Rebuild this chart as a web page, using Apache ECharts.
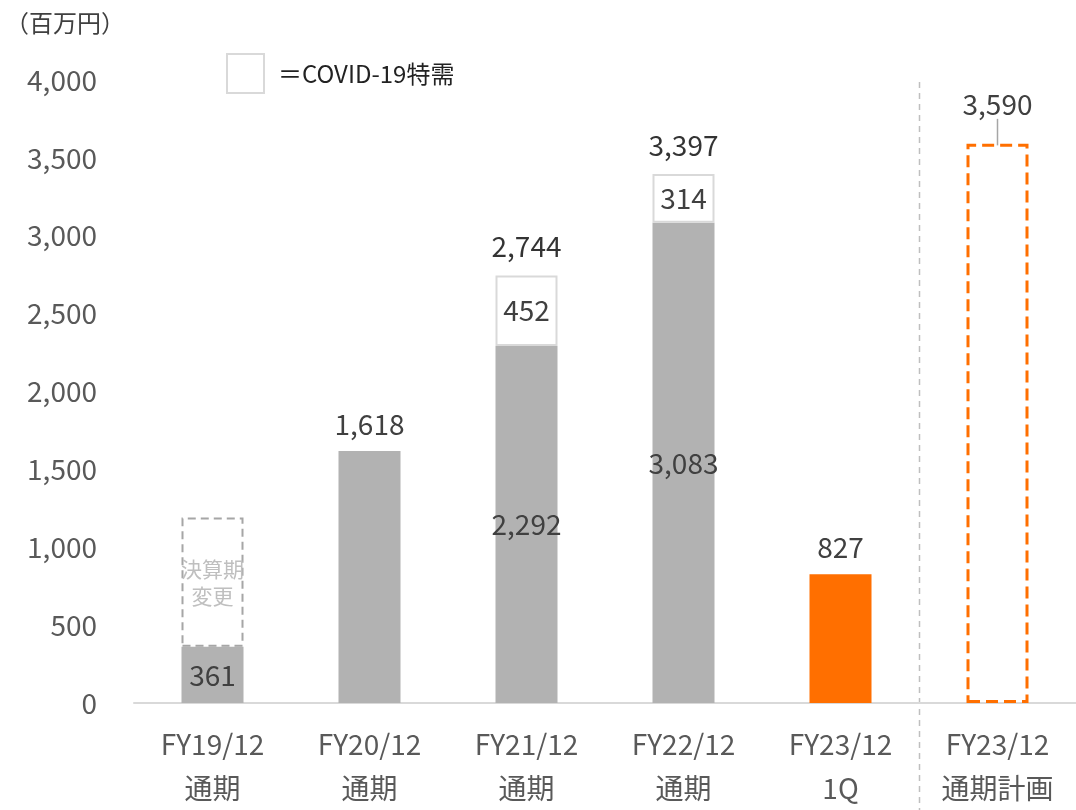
<!DOCTYPE html>
<html>
<head>
<meta charset="utf-8">
<script src="https://cdn.jsdelivr.net/npm/echarts@6/dist/echarts.min.js"></script>
<style>
  html, body { margin: 0; padding: 0; background: #fff; }
  #main { width: 1076px; height: 810px; }
</style>
</head>
<body>
<div id="main"></div>
<script>
// 売上推移（百万円）
const categories = ['FY19/12\n通期', 'FY20/12\n通期', 'FY21/12\n通期', 'FY22/12\n通期', 'FY23/12\n1Q', 'FY23/12\n通期計画'];
const baseValues = [361, 1618, 2292, 3083, 827, 3590];
const covidValues = [null, null, 452, 314, null, null];   // COVID-19特需
const totalValues = [null, null, 2744, 3397, null, null];
const changeValues = [830, null, null, null, null, null]; // 決算期変更の枠
const yMin = 0, yMax = 4000, yInterval = 500;

const FONT = '"Noto Sans CJK JP", "Noto Sans", sans-serif';
const GRAY = '#b2b2b2';
const ORANGE = '#ff6f00';
const TXT = '#404040';
const FS = 28;

const chart = echarts.init(document.getElementById('main'));

// 各棒の見た目（ラベルの位置など）
const baseData = baseValues.map((v, i) => {
  const item = { value: v };
  if (i === 1 || i === 4) {
    item.label = { position: 'top', distance: 13 };
  }
  if (i === 4) {
    item.itemStyle = { color: ORANGE };
  }
  if (i === 5) {
    item.itemStyle = { color: 'rgba(0,0,0,0)', borderColor: ORANGE, borderWidth: 3, borderType: [12, 6] };
    item.label = { position: 'top', distance: 5 };
    item.labelLine = { show: true, lineStyle: { color: '#a6a6a6', width: 1.5 } };
  }
  return item;
});

const option = {
  animation: false,
  textStyle: { fontFamily: FONT },
  title: {
    text: '（百万円）',
    left: 0,
    top: 6,
    textStyle: { fontFamily: FONT, fontSize: 24, fontWeight: 'normal', color: TXT }
  },
  legend: {
    data: ['COVID-19特需'],
    left: 221,
    top: 48,
    icon: 'rect',
    itemWidth: 37,
    itemHeight: 39,
    formatter: '＝{name}',
    textStyle: { fontFamily: FONT, fontSize: 24, color: '#222', padding: [0, 0, 0, 9] }
  },
  grid: { left: 134, right: 0, top: 80, bottom: 105 },
  xAxis: {
    type: 'category',
    data: categories,
    axisLine: { lineStyle: { color: '#d9d9d9', width: 2 } },
    axisTick: { show: false },
    axisLabel: { color: '#595959', fontSize: FS, lineHeight: 44, margin: 19, fontFamily: FONT }
  },
  yAxis: {
    type: 'value',
    min: yMin,
    max: yMax,
    interval: yInterval,
    splitLine: { show: false },
    axisLine: { show: false },
    axisTick: { show: false },
    axisLabel: {
      color: '#595959', fontSize: FS, margin: 37, fontFamily: FONT,
      formatter: v => v.toLocaleString('en-US')
    }
  },
  series: [
    {
      name: 'base',
      type: 'bar',
      stack: 'a',
      barWidth: 62,
      itemStyle: { color: GRAY },
      label: {
        show: true, position: 'inside', color: TXT, fontSize: FS, fontFamily: FONT,
        formatter: p => p.value.toLocaleString('en-US')
      },
      labelLine: { show: false },
      labelLayout: p => (p.dataIndex === 5 ? { dy: -20 } : {}),
      data: baseData
    },
    {
      name: 'COVID-19特需',
      type: 'bar',
      stack: 'a',
      barWidth: 62,
      itemStyle: { color: '#fff', borderColor: '#d9d9d9', borderWidth: 2 },
      label: { show: true, position: 'inside', color: TXT, fontSize: FS, fontFamily: FONT },
      data: covidValues
    },
    {
      name: 'change',
      type: 'bar',
      stack: 'a',
      barWidth: 62,
      itemStyle: { color: 'rgba(0,0,0,0)', borderColor: '#a6a6a6', borderWidth: 2, borderType: [8, 5] },
      label: {
        show: true, position: 'inside', color: '#bfbfbf', fontSize: 21, lineHeight: 27, fontFamily: FONT,
        formatter: '決算期\n変更'
      },
      data: changeValues
    },
    {
      name: 'total',
      type: 'scatter',
      symbolSize: 0,
      label: {
        show: true, position: 'top', distance: 15, color: '#000', fontSize: FS, fontFamily: FONT,
        formatter: p => p.value.toLocaleString('en-US')
      },
      data: totalValues
    }
  ]
};

chart.setOption(option);

// 計画との区切り線
const x4 = chart.convertToPixel({ xAxisIndex: 0 }, 4);
const x5 = chart.convertToPixel({ xAxisIndex: 0 }, 5);
const yTop = chart.convertToPixel({ yAxisIndex: 0 }, yMax);
const sepX = Math.round((x4 + x5) / 2) + 0.5;
chart.setOption({
  graphic: [{
    type: 'line',
    shape: { x1: sepX, y1: yTop + 2, x2: sepX, y2: 810 },
    style: { stroke: '#bfbfbf', lineWidth: 1.5, lineDash: [6, 5] },
    z: 0
  }]
});
</script>
</body>
</html>
